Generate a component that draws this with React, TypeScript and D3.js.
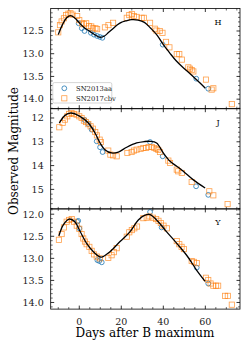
import React from "react";
import * as d3 from "d3";

// [days after B max, magnitude]
const hSN2013aa: [number, number][] = [
  [-0.3, 12.33], [1.2, 12.44], [2.5, 12.5], [5.5, 12.54], [7, 12.58], [8.5, 12.61],
  [9.8, 12.63], [11, 12.65], [39.7, 12.8], [55.7, 13.55], [61.4, 13.77],
];
const hSN2017cbv: [number, number][] = [
  [-10, 12.53], [-9.2, 12.37], [-8.4, 12.29], [-7.3, 12.22], [-6.3, 12.15], [-5.2, 12.12],
  [-4.2, 12.11], [-3.2, 12.14], [-1, 12.17], [0, 12.26], [1.3, 12.33], [2.2, 12.35],
  [3.3, 12.33], [4.6, 12.39], [5.7, 12.4], [6.5, 12.44], [7.7, 12.44], [8.5, 12.46],
  [12.2, 12.42], [13.9, 12.37], [16.1, 12.32], [22.6, 12.21], [23.8, 12.15], [25, 12.13],
  [26, 12.17], [27.3, 12.19], [29.7, 12.21], [30.8, 12.21], [33.7, 12.32], [36, 12.45],
  [36.7, 12.49], [38.3, 12.5], [39.6, 12.54], [41.3, 12.74], [42.9, 12.86], [46.4, 13.01],
  [47.6, 13.01], [48.8, 13.13], [51.9, 13.3], [52.7, 13.33], [53.5, 13.36], [54.3, 13.39],
  [60.3, 13.57], [63, 13.79], [63.8, 13.76], [72.6, 14.11],
];
const hTemplate: [number, number][] = [
  [-10, 12.58], [-8, 12.36], [-6, 12.21], [-4.2, 12.16], [-2, 12.22], [0, 12.32], [2, 12.41],
  [4, 12.48], [6, 12.54], [8, 12.6], [10, 12.64], [12, 12.61], [14, 12.53], [16, 12.45],
  [18, 12.37], [20, 12.31], [22, 12.28], [25, 12.25], [28, 12.26], [31, 12.31], [34, 12.44],
  [37, 12.59], [40, 12.8], [43, 12.98], [46, 13.15], [49.5, 13.31], [53, 13.45], [56, 13.58],
  [60, 13.76],
];

const jSN2013aa: [number, number][] = [
  [2.5, 12.08], [4.3, 12.25], [5.9, 12.49], [8.3, 12.98], [9.9, 13.23], [11.1, 13.43],
  [33.7, 13.01], [39.7, 13.61], [55.6, 14.87], [61.4, 15.23],
];
const jSN2017cbv: [number, number][] = [
  [-9.5, 12.39], [-7.9, 12.21], [-6.8, 12.07], [-5.7, 11.93], [-4.8, 11.83], [-3.7, 11.79],
  [-2.6, 11.83], [-1.3, 11.86], [0, 11.93], [1.1, 12.0], [2.2, 12.11], [3.2, 12.17],
  [4.3, 12.26], [5.4, 12.35], [6.5, 12.45], [7.6, 12.59], [8.4, 12.73], [9.7, 12.91],
  [10.3, 13.01], [13.8, 13.37], [14.8, 13.54], [16.1, 13.57], [17.8, 13.61], [22.9, 13.47],
  [24.9, 13.43], [26, 13.37], [27.3, 13.33], [29.2, 13.3], [30.5, 13.26], [31.8, 13.26],
  [33, 13.22], [34.6, 13.22], [35.7, 13.26], [36.7, 13.3], [37.6, 13.34], [38.4, 13.43],
  [42.4, 13.79], [43.2, 13.89], [46.4, 14.17], [47.1, 14.24], [48.8, 14.31], [53.5, 14.69],
  [61.9, 15.08], [63.8, 15.25], [70.6, 15.62],
];
const jTemplate: [number, number][] = [
  [-9.5, 12.21], [-6.8, 11.89], [-4.1, 11.79], [0.3, 11.93], [4.3, 12.21], [7.5, 12.63],
  [9.9, 13.05], [12.2, 13.33], [15.4, 13.47], [18.6, 13.43], [22.6, 13.23], [27.3, 13.05],
  [31, 12.99], [33.7, 12.98], [36.8, 13.05], [40, 13.47], [43.2, 13.82], [46.4, 14.03],
  [49.5, 14.24], [54.3, 14.6], [59.9, 14.94],
];

const ySN2013aa: [number, number][] = [
  [-1, 12.17], [-0.5, 12.15], [0, 12.32], [8.6, 13.04], [9.5, 13.06], [10.7, 13.09],
  [33.7, 11.95], [39.2, 12.3], [55.9, 13.21], [61.4, 13.57],
];
const ySN2017cbv: [number, number][] = [
  [-9.7, 12.58], [-8.4, 12.45], [-7.3, 12.3], [-6, 12.17], [-4.8, 12.13], [-3.6, 12.11],
  [-2.5, 12.17], [-1.2, 12.26], [0, 12.33], [1.1, 12.45], [1.9, 12.55], [2.7, 12.62],
  [3.5, 12.68], [4.8, 12.74], [5.9, 12.83], [7, 12.91], [8.3, 12.96], [9.8, 13.0],
  [13.8, 12.99], [15.4, 12.93], [16.5, 12.86], [17.8, 12.77], [22.6, 12.51], [23.8, 12.41],
  [25, 12.36], [26.2, 12.32], [27.5, 12.28], [30.5, 12.09], [32.1, 12.08], [33.4, 12.05],
  [35, 12.08], [36.6, 12.11], [37.7, 12.15], [38.8, 12.2], [40.1, 12.26], [41.7, 12.32],
  [46.4, 12.61], [47.6, 12.68], [48.7, 12.74], [49.8, 12.79], [53.5, 13.06], [54.6, 13.08],
  [55.9, 13.11], [60.3, 13.44], [61.4, 13.49], [62.5, 13.57], [63.8, 13.62], [65.1, 13.62],
  [66.1, 13.62], [69.4, 13.85], [70.7, 13.85], [72.6, 14.05],
];
const yTemplate: [number, number][] = [
  [-9.7, 12.49], [-7.6, 12.24], [-4.8, 12.11], [-2.1, 12.17], [0.3, 12.38], [3.5, 12.66],
  [6.7, 12.85], [9.5, 12.96], [10.7, 12.97], [14.6, 12.85], [19.4, 12.62], [24.1, 12.4],
  [28.1, 12.13], [31.3, 12.02], [33.7, 12.01], [36.8, 12.13], [41.6, 12.4], [46.4, 12.66],
  [51.1, 12.93], [55.9, 13.27], [59.9, 13.52],
];

const panels = [
  { band: "H", sn13: hSN2013aa, sn17: hSN2017cbv, tmpl: hTemplate, domain: [12.005, 14.21], major: [12.5, 13.0, 13.5, 14.0], minorStep: 0.1, fmt: ".1f", legend: true },
  { band: "J", sn13: jSN2013aa, sn17: jSN2017cbv, tmpl: jTemplate, domain: [11.61, 15.82], major: [12, 13, 14, 15], minorStep: 0.2, fmt: "d", legend: false },
  { band: "Y", sn13: ySN2013aa, sn17: ySN2017cbv, tmpl: yTemplate, domain: [11.88, 14.15], major: [12.0, 12.5, 13.0, 13.5, 14.0], minorStep: 0.1, fmt: ".1f", legend: false },
];

const xMajor = [0, 20, 40, 60];
const legendLabels = ["SN2013aa", "SN2017cbv"];

const W = 249;
const H = 349;
const left = 50.7;
const right = 240;
const top0 = 8.5;
const panelH = 100.2;
const blue = "#1f77b4";
const orange = "#ff7f0e";
const font = "DejaVu Serif, serif";

export default function App() {
  const x = d3.scaleLinear().domain([-13.6, 76.5]).range([left, right]);
  const xMinor = d3.range(-10, 76, 5).filter((v) => !xMajor.includes(v));

  return (
    <svg width={W} height={H} style={{ position: "absolute", left: 0, top: 0, background: "#fff" }}>
      <defs>
        {panels.map((p, i) => (
          <clipPath id={`clip${i}`} key={p.band}>
            <rect x={left} y={top0 + i * panelH} width={right - left} height={panelH} />
          </clipPath>
        ))}
      </defs>
      {panels.map((p, i) => {
        const t = top0 + i * panelH;
        const b = t + panelH;
        const y = d3.scaleLinear().domain(p.domain).range([t, b]);
        const yMinor = d3
          .range(Math.ceil(p.domain[0] / p.minorStep), Math.floor(p.domain[1] / p.minorStep) + 1)
          .map((k) => +(k * p.minorStep).toFixed(2))
          .filter((v) => !p.major.some((m) => Math.abs(m - v) < 1e-6));
        const line = d3
          .line<[number, number]>()
          .x((d) => x(d[0]))
          .y((d) => y(d[1]))
          .curve(d3.curveCatmullRom.alpha(0.5));
        const fmt = d3.format(p.fmt);
        return (
          <g key={p.band}>
            <g clipPath={`url(#clip${i})`}>
              {p.sn13.map((d, k) => (
                <circle key={"c" + k} cx={x(d[0])} cy={y(d[1])} r={2.4} fill="none" stroke={blue} strokeWidth={0.8} />
              ))}
              {p.sn17.map((d, k) => (
                <rect key={"s" + k} x={x(d[0]) - 2.6} y={y(d[1]) - 2.6} width={5.2} height={5.2} fill="none" stroke={orange} strokeOpacity={0.75} strokeWidth={0.8} />
              ))}
              <path d={line(p.tmpl) || ""} fill="none" stroke="#000" strokeWidth={1.3} />
            </g>
            <rect x={left} y={t} width={right - left} height={panelH} fill="none" stroke="#000" strokeWidth={0.8} />
            {xMajor.map((v) => (
              <g key={"xM" + v}>
                <line x1={x(v)} x2={x(v)} y1={b} y2={b - 3.5} stroke="#000" strokeWidth={0.8} />
                <line x1={x(v)} x2={x(v)} y1={t} y2={t + 3.5} stroke="#000" strokeWidth={0.8} />
              </g>
            ))}
            {xMinor.map((v) => (
              <g key={"xm" + v}>
                <line x1={x(v)} x2={x(v)} y1={b} y2={b - 2} stroke="#000" strokeWidth={0.6} />
                <line x1={x(v)} x2={x(v)} y1={t} y2={t + 2} stroke="#000" strokeWidth={0.6} />
              </g>
            ))}
            {p.major.map((v) => (
              <g key={"yM" + v}>
                <line x1={left} x2={left + 3.5} y1={y(v)} y2={y(v)} stroke="#000" strokeWidth={0.8} />
                <line x1={right} x2={right - 3.5} y1={y(v)} y2={y(v)} stroke="#000" strokeWidth={0.8} />
                <text x={left - 7} y={y(v)} dy="0.35em" textAnchor="end" fontFamily={font} fontSize={9.5} fill="#222">
                  {fmt(v)}
                </text>
              </g>
            ))}
            {yMinor.map((v) => (
              <g key={"ym" + v}>
                <line x1={left} x2={left + 2} y1={y(v)} y2={y(v)} stroke="#000" strokeWidth={0.6} />
                <line x1={right} x2={right - 2} y1={y(v)} y2={y(v)} stroke="#000" strokeWidth={0.6} />
              </g>
            ))}
            <text x={218} y={t + 16} textAnchor="middle" fontFamily={font} fontSize={8} fill="#000">
              {p.band}
            </text>
            {p.legend && (
              <g>
                <rect x={52.8} y={82.6} width={59} height={20.4} rx={1.5} fill="#fff" fillOpacity={0.8} stroke="#ccc" strokeWidth={0.8} />
                <circle cx={64.3} cy={88.3} r={2.4} fill="none" stroke={blue} strokeWidth={0.8} />
                <rect x={61.7} y={95.7} width={5.2} height={5.2} fill="none" stroke={orange} strokeOpacity={0.75} strokeWidth={0.8} />
                {legendLabels.map((l, k) => (
                  <text key={l} x={76} y={88.3 + k * 10} dy="0.35em" fontFamily={font} fontSize={6.8} fill="#222">
                    {l}
                  </text>
                ))}
              </g>
            )}
            {i === panels.length - 1 &&
              xMajor.map((v) => (
                <text key={"xl" + v} x={x(v)} y={324.5} textAnchor="middle" fontFamily={font} fontSize={9.5} fill="#222">
                  {v}
                </text>
              ))}
          </g>
        );
      })}
      <text x={145} y={337} textAnchor="middle" fontFamily={font} fontSize={12} fill="#000">
        Days after B maximum
      </text>
      <text transform="translate(18,151) rotate(-90)" textAnchor="middle" fontFamily={font} fontSize={12} fill="#000">
        Observed Magnitude
      </text>
    </svg>
  );
}
